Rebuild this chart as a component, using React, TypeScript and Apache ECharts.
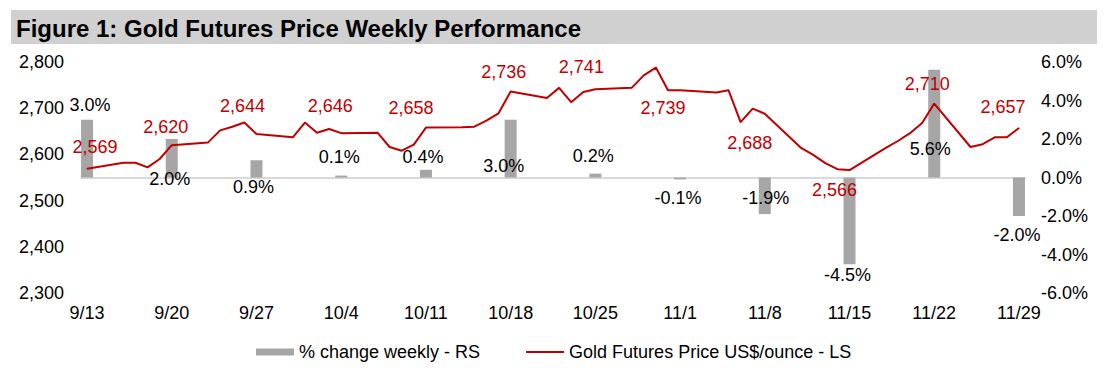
import React, { useEffect, useRef } from "react";
import * as echarts from "echarts";

const FONT = '"Liberation Sans", Arial, Helvetica, sans-serif';

const titleText = "Figure 1: Gold Futures Price Weekly Performance";
const lineName = "Gold Futures Price US$/ounce - LS";
const barName = "% change weekly - RS";

const tradeDates = [
  "9/13", "9/16", "9/17", "9/18", "9/19", "9/20",
  "9/23", "9/24", "9/25", "9/26", "9/27",
  "9/30", "10/1", "10/2", "10/3", "10/4",
  "10/7", "10/8", "10/9", "10/10", "10/11",
  "10/14", "10/15", "10/16", "10/17", "10/18",
  "10/21", "10/22", "10/23", "10/24", "10/25",
  "10/28", "10/29", "10/30", "10/31", "11/1",
  "11/4", "11/5", "11/6", "11/7", "11/8",
  "11/11", "11/12", "11/13", "11/14", "11/15",
  "11/18", "11/19", "11/20", "11/21", "11/22",
  "11/25", "11/26", "11/27", "11/28", "11/29",
];

const goldPrice = [
  2569, 2582, 2582, 2572, 2590, 2620,
  2626, 2652, 2660, 2669, 2644,
  2637, 2669, 2647, 2655, 2646,
  2647, 2616, 2608, 2621, 2658,
  2659, 2660, 2673, 2689, 2736,
  2722, 2744, 2713, 2735, 2741,
  2744, 2771, 2788, 2739, 2739,
  2734, 2739, 2670, 2699, 2688,
  2614, 2599, 2581, 2568, 2566,
  2614, 2629, 2646, 2668, 2710,
  2616, 2622, 2637, 2637, 2657,
];

const weekDates = ["9/13", "9/20", "9/27", "10/4", "10/11", "10/18", "10/25", "11/1", "11/8", "11/15", "11/22", "11/29"];
const weeklyChange = [3.0, 2.0, 0.9, 0.1, 0.4, 3.0, 0.2, -0.1, -1.9, -4.5, 5.6, -2.0];

const leftTicks = { min: 2300, max: 2800, step: 100 };
const rightTicks = { min: -6, max: 6, step: 2 };

// label offsets (styling), relative to the labelled point / bar centre
const priceLabelOffsets = [
  [8, -22], [-6, -18], [-14, -28], [-11, -27], [-15, -20], [-7, -20],
  [-14, -22], [-17, 18], [-15, 29], [-15, 20], [-7, -20], [-16, -21],
];
const changeLabelOffsets = [
  [3, -44], [-2, 21], [-3, 18], [-2, -20], [-3, -17], [-7, 17],
  [-2, -20], [-2, 20], [1, 2], [-2, 54], [-4, 25], [-2, 38],
];

function buildDays(first: string, last: string): string[] {
  const [fm, fd] = first.split("/").map(Number);
  const [lm, ld] = last.split("/").map(Number);
  const out: string[] = [];
  const t = new Date(2024, fm - 1, fd);
  const end = new Date(2024, lm - 1, ld);
  while (t <= end) {
    out.push(`${t.getMonth() + 1}/${t.getDate()}`);
    t.setDate(t.getDate() + 1);
  }
  return out;
}

export default function App() {
  const ref = useRef<HTMLDivElement>(null);

  useEffect(() => {
    document.body.style.margin = "0";
    if (!ref.current) return;
    const chart = echarts.init(ref.current, undefined, { renderer: "svg" });

    const days = buildDays(tradeDates[0], tradeDates[tradeDates.length - 1]);

    const lineData = days.map((d) => {
      const i = tradeDates.indexOf(d);
      if (i < 0) return null;
      const w = weekDates.indexOf(d);
      if (w < 0) return goldPrice[i];
      return {
        value: goldPrice[i],
        label: { show: true, position: "inside", offset: priceLabelOffsets[w] },
      };
    });

    const barData = days.map((d) => {
      const w = weekDates.indexOf(d);
      if (w < 0) return null;
      return {
        value: weeklyChange[w],
        label: { show: true, position: "inside", offset: changeLabelOffsets[w] },
      };
    });

    chart.setOption({
      animation: false,
      textStyle: { fontFamily: FONT },
      graphic: [
        {
          type: "rect",
          left: 11,
          top: 10,
          shape: { width: 1086, height: 34 },
          style: { fill: "#d1d0d1" },
          silent: true,
        },
        {
          type: "text",
          x: 16,
          y: 28,
          style: {
            text: titleText,
            font: `bold 24px ${FONT}`,
            fill: "#000000",
            verticalAlign: "middle",
            align: "left",
          },
          silent: true,
        },
      ],
      grid: { left: 81, right: 85, top: 62, bottom: 78, containLabel: false },
      legend: {
        left: 256,
        top: 343,
        padding: 0,
        itemWidth: 38,
        itemHeight: 7,
        itemGap: 46,
        textStyle: { fontSize: 18, color: "#000", fontFamily: FONT },
        data: [
          { name: barName, icon: "rect" },
          { name: lineName, icon: "path://M0,0H38V2H0Z" },
        ],
      },
      xAxis: {
        type: "category",
        data: days,
        boundaryGap: true,
        axisLine: { show: true, lineStyle: { color: "#d9d9d9", width: 2 } },
        axisTick: { show: false },
        axisLabel: {
          interval: 6,
          fontSize: 18,
          color: "#000",
          margin: 11,
          fontFamily: FONT,
        },
        splitLine: { show: false },
      },
      yAxis: [
        {
          type: "value",
          min: leftTicks.min,
          max: leftTicks.max,
          interval: leftTicks.step,
          axisLine: { show: false },
          axisTick: { show: false },
          splitLine: { show: false },
          axisLabel: {
            fontSize: 18,
            color: "#000",
            margin: 17,
            fontFamily: FONT,
            formatter: (v: number) => v.toLocaleString("en-US"),
          },
        },
        {
          type: "value",
          min: rightTicks.min,
          max: rightTicks.max,
          interval: rightTicks.step,
          position: "right",
          axisLine: { show: false },
          axisTick: { show: false },
          splitLine: { show: false },
          axisLabel: {
            fontSize: 18,
            color: "#000",
            margin: 16,
            fontFamily: FONT,
            formatter: (v: number) => `${v.toFixed(1)}%`,
          },
        },
      ],
      series: [
        {
          name: barName,
          type: "bar",
          yAxisIndex: 1,
          data: barData,
          barWidth: 12,
          color: "#a6a6a6",
          itemStyle: { color: "#a6a6a6" },
          label: {
            show: false,
            fontSize: 18,
            color: "#000",
            fontFamily: FONT,
            formatter: (p: any) => `${Number(p.value).toFixed(1)}%`,
          },
          z: 1,
        },
        {
          name: lineName,
          type: "line",
          yAxisIndex: 0,
          data: lineData,
          connectNulls: true,
          showSymbol: true,
          showAllSymbol: true,
          symbol: "circle",
          symbolSize: 1,
          color: "#c00000",
          itemStyle: { color: "#c00000" },
          lineStyle: { color: "#c00000", width: 2 },
          label: {
            show: false,
            fontSize: 18,
            color: "#c00000",
            fontFamily: FONT,
            formatter: (p: any) => Number(p.value).toLocaleString("en-US"),
          },
          z: 2,
        },
      ],
    });

    return () => chart.dispose();
  }, []);

  return <div ref={ref} style={{ width: 1110, height: 371 }} />;
}
